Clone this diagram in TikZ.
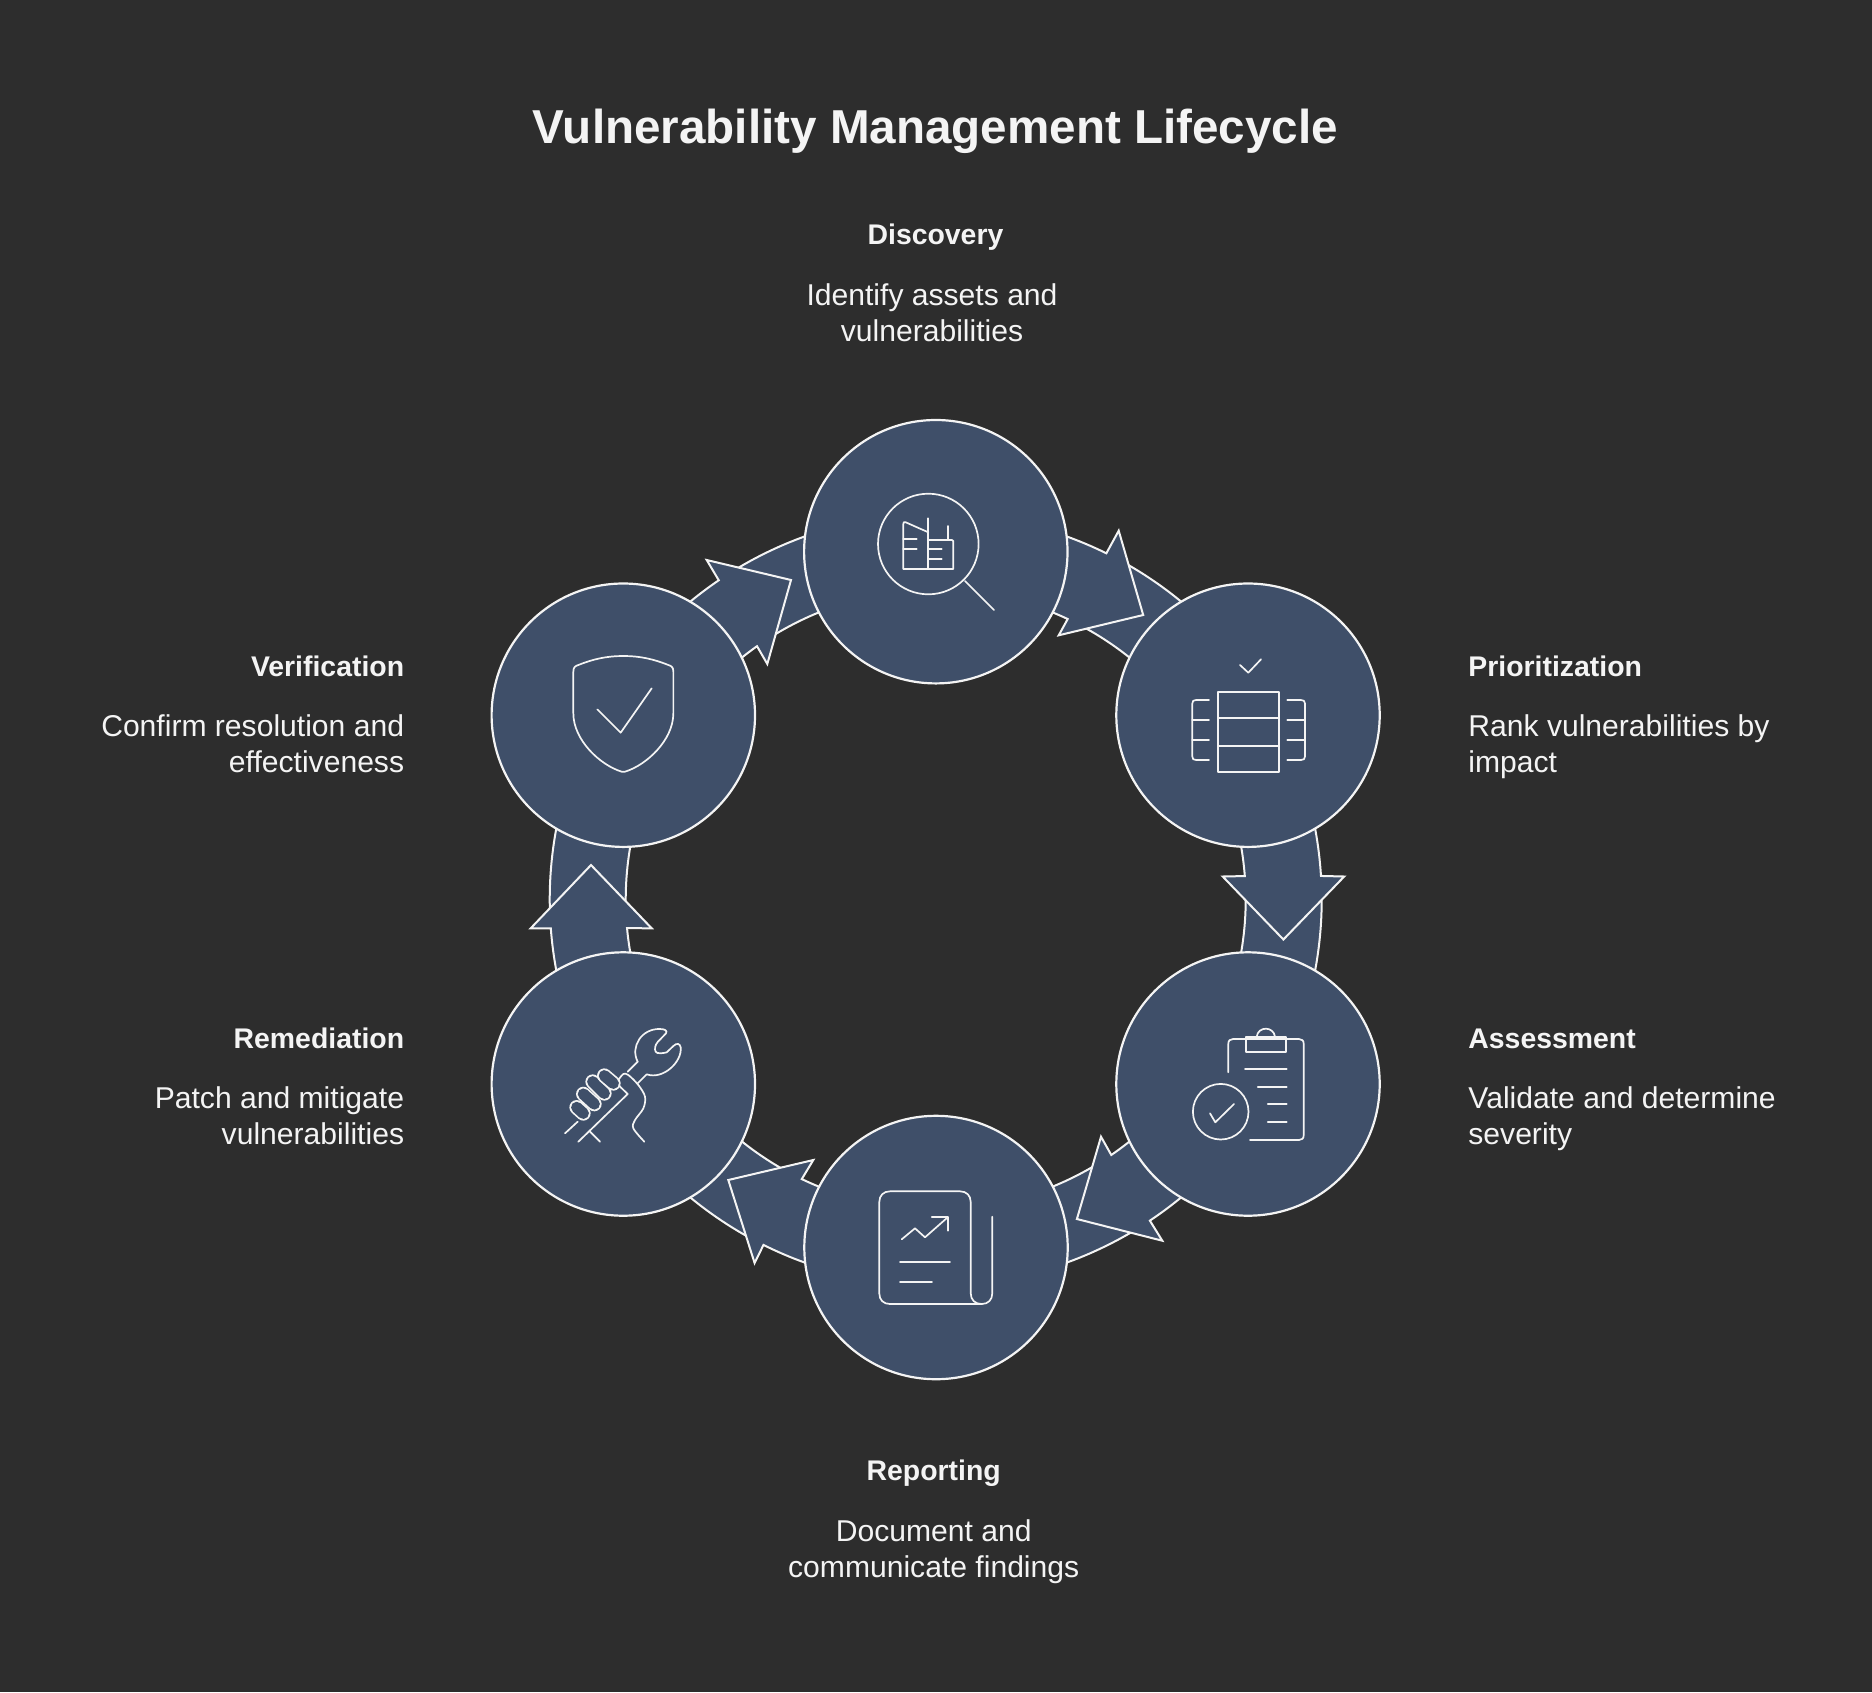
\documentclass[tikz,border=0pt]{standalone}
\usepackage{fontspec}
\setmainfont{Liberation Sans}
\usetikzlibrary{calc}
\definecolor{bgc}{HTML}{2D2D2D}
\definecolor{fillc}{HTML}{3F4F69}
\definecolor{linec}{HTML}{F4F4F4}
\tikzset{
  stage/.style={circle,draw=linec,fill=fillc,line width=1.1pt,minimum size=131.7pt,inner sep=0pt},
  band/.style={draw=linec,fill=fillc,line width=1pt,line join=miter},
  icon/.style={draw=linec,line width=.85pt,line cap=round,line join=round},
  titletext/.style={text=linec,inner sep=0pt,anchor=base,font=\fontsize{23.8}{28}\bfseries},
  headtext/.style={text=linec,inner sep=0pt,font=\fontsize{14.2}{18}\bfseries},
  bodytext/.style={text=linec,inner sep=0pt,font=\fontsize{15.05}{18}\selectfont},
}
\newcommand{\TailArc}[2]{%
  \draw[band] ($(C)+(#1:386)$) arc[start angle=#1,end angle=#2,radius=386]
    -- ($(C)+(#2:310)$) arc[start angle=#2,end angle=#1,radius=310] -- cycle;}
\newcommand{\HeadArc}[6]{%
  \draw[band] ($(C)+(#1:386)$) arc[start angle=#1,end angle=#2,radius=386]
    -- #4 -- #5 -- #6
    -- ($(C)+(#3:310)$) arc[start angle=#3,end angle=#1,radius=310] -- cycle;}
\begin{document}
\begin{tikzpicture}[x=.5pt,y=-.5pt]
\useasboundingbox (0,0) rectangle (1872,1692);
\fill[bgc] (0,0) rectangle (1872,1692);
\coordinate (C) at (935.7,899.5);
% tails
\TailArc{-63}{-30.6}
\TailArc{-3}{30.6}
\TailArc{57}{90}
\TailArc{117}{149.4}
\TailArc{176.5}{210.6}
\TailArc{236.5}{270}
% heads
\HeadArc{-90}{-63.76}{-64.8}{(1118.7,530.7)}{(1143.2,615)}{(1058.7,635.3)}
\HeadArc{-30.6}{-3.5}{-4.34}{(1344.2,876.5)}{(1283.4,939.5)}{(1222.7,876.5)}
\HeadArc{30.6}{56.3}{55.5}{(1162.3,1240.7)}{(1076.9,1219)}{(1101,1136.7)}
\HeadArc{90}{116.5}{115.6}{(754.6,1263)}{(728.3,1180)}{(813.3,1160)}
\HeadArc{149.4}{175.7}{174.7}{(530.7,928.3)}{(591,865)}{(651.7,928.3)}
\HeadArc{210.6}{235.8}{234.8}{(706.7,560)}{(791,580)}{(767.3,664)}
% stages
\node[stage] (discovery) at (935.8,551.7) {};
\node[stage] (prioritization) at (1248,715.2) {};
\node[stage] (assessment) at (1248,1084) {};
\node[stage] (reporting) at (936,1247.5) {};
\node[stage] (remediation) at (623.3,1084) {};
\node[stage] (verification) at (623.3,715.2) {};
% Discovery icon
\begin{scope}[icon]
\draw (928.3,544) circle[radius=50.3];
\draw (965,581) -- (994,610);
\draw (928.3,532.3) -- (905.5,522.2) .. controls (904,521.5) and (903.3,522.5) .. (903.3,524) -- (903.3,569) -- (953.3,569) -- (953.3,541) -- (952,540) -- (928.3,540);
\draw (928.3,518.3) -- (928.3,569);
\draw (948,526) -- (948,540);
\draw (903.3,539.3) -- (916.7,539.3);
\draw (903.3,549.3) -- (916.7,549.3);
\draw (928.3,549.3) -- (941.7,549.3);
\draw (928.3,559.3) -- (941.7,559.3);
% Prioritization icon
\draw (1240,665) -- (1248.3,672.7) -- (1261,659.3);
\draw (1218,691.7) rectangle (1278.7,772);
\draw (1218,718.3) -- (1278.7,718.3);
\draw (1218,745.7) -- (1278.7,745.7);
\draw (1209,700) -- (1196,700) .. controls (1193.5,700) and (1192.3,701) .. (1192.3,703.5) -- (1192.3,756.5) .. controls (1192.3,759) and (1193.5,760) .. (1196,760) -- (1209,760);
\draw (1192.3,720) -- (1209,720);
\draw (1192.3,739.7) -- (1209,739.7);
\draw (1287.3,700) -- (1301,700) .. controls (1303.5,700) and (1305,701) .. (1305,703.5) -- (1305,756.5) .. controls (1305,759) and (1303.5,760) .. (1301,760) -- (1287.3,760);
\draw (1287.3,720) -- (1305,720);
\draw (1287.3,739.7) -- (1305,739.7);
% Assessment icon
\draw (1228.3,1072.3) -- (1228.3,1044) .. controls (1228.3,1040.5) and (1230,1039) .. (1233,1039) -- (1299,1039) .. controls (1302,1039) and (1303.7,1040.5) .. (1303.7,1044) -- (1303.7,1135) .. controls (1303.7,1138.5) and (1302,1140) .. (1299,1140) -- (1250,1140);
\draw (1245.7,1036.7) rectangle (1286,1052);
\draw (1256.7,1036.7) .. controls (1258,1026) and (1273.5,1026) .. (1275,1036.7);
\draw (1245,1069.3) -- (1286.7,1069.3);
\draw (1257.7,1086.7) -- (1286.7,1086.7);
\draw (1267.7,1104.3) -- (1286.7,1104.3);
\draw (1267.7,1122) -- (1286.7,1122);
\draw (1220.7,1111.7) circle[radius=27.8];
\draw (1210,1113.3) -- (1215.3,1122.3) -- (1234,1104);
% Reporting icon
\draw (992.3,1216.7) -- (992.3,1293) .. controls (992.3,1300) and (988,1304) .. (981.7,1304) -- (890,1304) .. controls (883.5,1304) and (879.3,1300) .. (879.3,1293.5) -- (879.3,1202) .. controls (879.3,1195.5) and (883.5,1191.3) .. (890,1191.3) -- (960,1191.3) .. controls (966.5,1191.3) and (970.7,1195.5) .. (970.7,1202) -- (970.7,1293) .. controls (970.7,1300) and (975,1304) .. (981.7,1304);
\draw (901.7,1239.3) -- (915,1228.3) -- (925,1237.3) -- (947.7,1217.3);
\draw (931.7,1217.3) -- (947.7,1217.3) -- (947.7,1230.7);
\draw (900,1262.3) -- (950,1262.3);
\draw (900,1282.3) -- (932,1282.3);
% Verification icon
\begin{scope}[shift={(480,560)},x=.16667pt,y=-.16667pt]
\draw (280,460) -- (280,335) .. controls (280,322) and (285,318) .. (295,315) .. controls (340,297) and (380,288) .. (430,288) .. controls (480,288) and (520,297) .. (565,315) .. controls (575,318) and (580,322) .. (580,335) -- (580,460) .. controls (580,540) and (500,615) .. (435,635) -- (425,635) .. controls (360,615) and (280,540) .. (280,460) -- cycle;
\draw (352,448) -- (422,518) -- (515,385);
\end{scope}
% Remediation icon
\begin{scope}[shift={(555,1020)},x=.16667pt,y=-.16667pt]
\draw (218,155) -- (248,125);
\draw (248,190) -- (275,163);
\draw (248,125) .. controls (225,80) and (260,25) .. (315,27) .. controls (330,27) and (338,32) .. (333,40) -- (308,66) .. controls (300,75) and (298,88) .. (302,95) .. controls (305,102) and (325,100) .. (335,97) -- (355,78) .. controls (365,68) and (375,70) .. (377,82) .. controls (382,125) and (325,180) .. (275,163);
\draw (30,340) -- (68,305);
\draw (70,365) -- (218,222) -- (190,195);
\draw (105,335) -- (135,365);
\foreach \ax/\ay/\bx/\by in {65/262/85/280, 85/222/118/252, 113/185/148/220, 148/167/175/190}{
  \draw[line width=7.3pt,line cap=round] (\ax,\ay) -- (\bx,\by);
  \draw[draw=fillc,line width=5.6pt,line cap=round] (\ax,\ay) -- (\bx,\by);
}
\draw plot[smooth,tension=.55] coordinates {(190,180) (205,162) (220,165) (250,195) (270,230) (265,265) (240,300) (235,325) (268,365)};
\end{scope}
\end{scope}
% texts
\node[titletext] (title) at (935.5,143.3) {Vulnerability Management Lifecycle};
\node[headtext,anchor=base] (h1) at (935.5,244.3) {Discovery};
\node[bodytext,anchor=base,align=center] (b1) at (932,341) {Identify assets and\\vulnerabilities};
\node[headtext,anchor=base west] (h2) at (1468,676) {Prioritization};
\node[bodytext,anchor=base west,align=left] (b2) at (1468,772.6) {Rank vulnerabilities by\\impact};
\node[headtext,anchor=base west] (h3) at (1468,1048) {Assessment};
\node[bodytext,anchor=base west,align=left] (b3) at (1468,1144.6) {Validate and determine\\severity};
\node[headtext,anchor=base] (h4) at (933.7,1480) {Reporting};
\node[bodytext,anchor=base,align=center] (b4) at (933.7,1577) {Document and\\communicate findings};
\node[headtext,anchor=base east] (h5) at (404.5,1048) {Remediation};
\node[bodytext,anchor=base east,align=right] (b5) at (404.5,1144.6) {Patch and mitigate\\vulnerabilities};
\node[headtext,anchor=base east] (h6) at (404.5,676) {Verification};
\node[bodytext,anchor=base east,align=right] (b6) at (404.5,772.6) {Confirm resolution and\\effectiveness};
\end{tikzpicture}
\end{document}
